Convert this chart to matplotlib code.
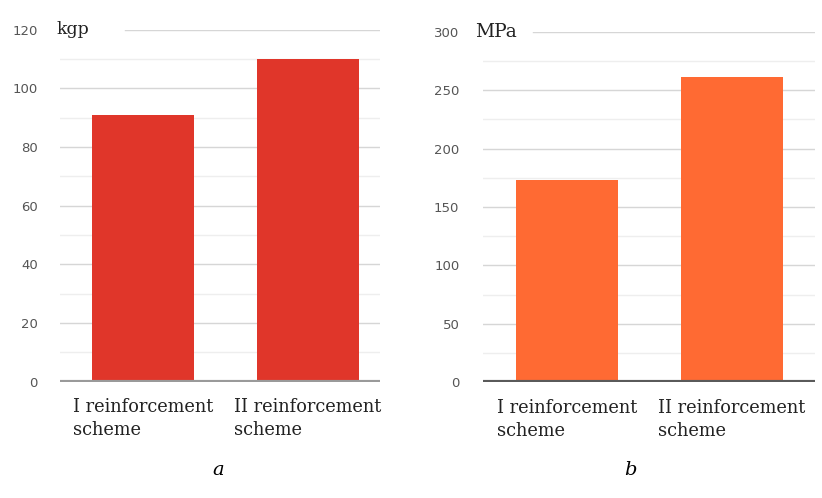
import matplotlib
matplotlib.use("Agg")
import matplotlib.pyplot as plt
import numpy as np

categories = ["I reinforcement\nscheme", "II reinforcement\nscheme"]
force_kgp = [91, 110]
stress_mpa = [173, 261]
left_ticks = [0, 20, 40, 60, 80, 100, 120]
right_ticks = [0, 50, 100, 150, 200, 250, 300]

fig = plt.figure(figsize=(8.22, 4.98), dpi=100)
W, H = 822, 498

def make_ax(x0, x1, y_top, y_zero):
    return fig.add_axes([x0 / W, 1 - y_zero / H, (x1 - x0) / W, (y_zero - y_top) / H])

def draw(ax, values, ticks, color, axis_color, unit, unit_x_frac, unit_size,
         grid_start_frac, xlim, ypad):
    x = np.arange(len(values))
    top = ticks[-1]
    step = ticks[1] - ticks[0]
    for t in ticks[1:]:
        xmin = grid_start_frac if t == top else 0
        ax.axhline(t, xmin=xmin, xmax=1, color="#d6d6d6", lw=1.0, zorder=0)
    for t in ticks[:-1]:
        ax.axhline(t + step / 2, color="#eeeeee", lw=1.0, zorder=0)
    ax.bar(x, values, width=0.62, color=color, zorder=2)
    ax.axhline(0, color=axis_color, lw=3, zorder=3)
    ax.set_xlim(*xlim)
    ax.set_ylim(0, top)
    ax.set_yticks(ticks)
    ax.set_yticklabels([str(t) for t in ticks], fontsize=9.5, color="#555555",
                       family="DejaVu Sans")
    ax.tick_params(axis="y", length=0, pad=ypad)
    ax.set_xticks(x)
    ax.set_xticklabels(categories, fontsize=12.8, family="DejaVu Serif",
                       multialignment="left", color="#222222", linespacing=1.35)
    ax.tick_params(axis="x", length=0, pad=12)
    for s in ax.spines.values():
        s.set_visible(False)
    ax.patch.set_alpha(0)
    ax.text(unit_x_frac, top, unit, transform=ax.get_yaxis_transform(),
            fontsize=unit_size, family="DejaVu Serif", va="center", ha="left",
            color="#222222", clip_on=False)

ax1 = make_ax(60, 380, 29.5, 381.7)
draw(ax1, force_kgp, left_ticks, "#E0362A", "#9a9a9a", "kgp", -0.01, 12.5,
     0.203, (-0.503, 1.436), 16)

ax2 = make_ax(483, 815, 31.7, 382.3)
draw(ax2, stress_mpa, right_ticks, "#FF6A33", "#5a5a5a", "MPa", -0.025, 13.5,
     0.15, (-0.509, 1.503), 17)

fig.text(218 / W, 1 - 470 / H, "a", fontsize=14, style="italic", family="DejaVu Serif",
         ha="center", va="center")
fig.text(630 / W, 1 - 470 / H, "b", fontsize=14, style="italic", family="DejaVu Serif",
         ha="center", va="center")

fig.savefig("out.png", dpi=100)
